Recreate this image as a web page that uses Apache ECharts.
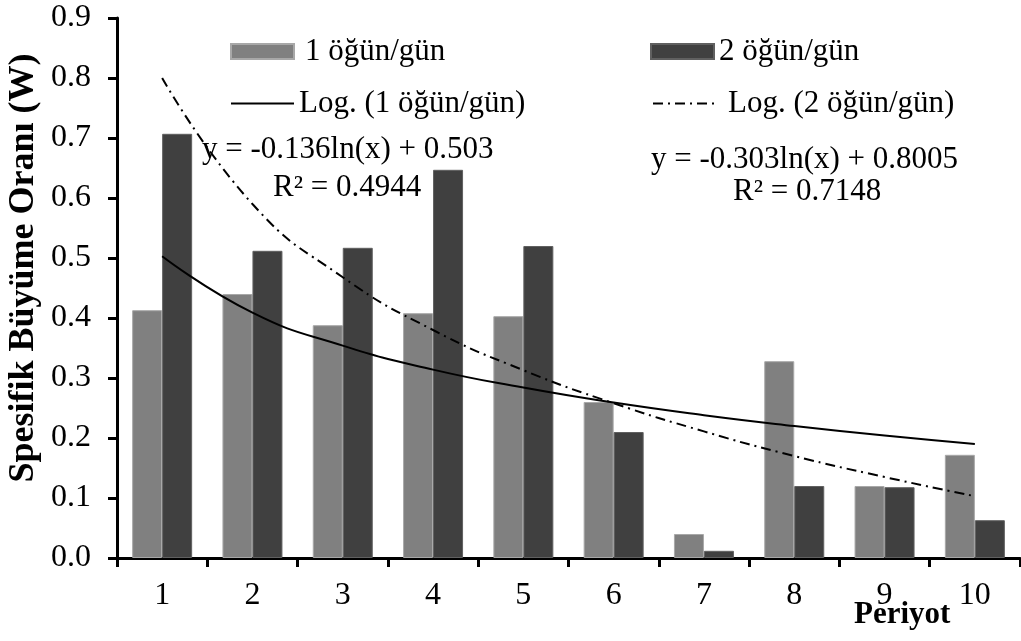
<!DOCTYPE html>
<html>
<head>
<meta charset="utf-8">
<script src="https://cdn.jsdelivr.net/npm/echarts@6/dist/echarts.min.js"></script>
<style>html,body{margin:0;padding:0;background:#fff;}#c{width:1021px;height:641px;}</style>
</head>
<body>
<div id="c"></div>
<script>
const categories = ['1','2','3','4','5','6','7','8','9','10'];
const ogun1 = [0.413, 0.440, 0.388, 0.408, 0.403, 0.260, 0.040, 0.328, 0.120, 0.172];
const ogun2 = [0.707, 0.512, 0.517, 0.647, 0.520, 0.210, 0.012, 0.120, 0.118, 0.063];
const log1 = [0.503, 0.409, 0.354, 0.314, 0.284, 0.259, 0.238, 0.220, 0.204, 0.190];
const log2 = [0.800, 0.590, 0.468, 0.380, 0.313, 0.258, 0.211, 0.170, 0.135, 0.103];
const yTicks = { min: 0, max: 0.9, interval: 0.1 };
const names = ['1 öğün/gün', '2 öğün/gün', 'Log. (1 öğün/gün)', 'Log. (2 öğün/gün)'];
const eq1 = ['y = -0.136ln(x) + 0.503', 'R² = 0.4944'];
const eq2 = ['y = -0.303ln(x) + 0.8005', 'R² = 0.7148'];
const xTitle = 'Periyot';
const yTitle = 'Spesifik Büyüme Oranı (W)';

const FONT = '"Liberation Serif", "Times New Roman", serif';
const chart = echarts.init(document.getElementById('c'), null, { renderer: 'canvas' });
const lt = (pad) => ({ fontFamily: FONT, fontSize: 31, color: '#000', padding: [0, 0, 0, pad] });
const dashDot = [10, 5, 2, 5];
const hideSym = { color: 'rgba(0,0,0,0)', borderWidth: 0, opacity: 0 };

chart.setOption({
  backgroundColor: '#fff',
  animation: false,
  grid: { left: 117, right: 1, top: 18, bottom: 83, containLabel: false, outerBoundsMode: 'none' },
  legend: [
    { data: [names[0]], left: 230, top: 36, itemWidth: 63, itemHeight: 15, icon: 'rect', textStyle: lt(6), padding: 0 },
    { data: [names[1]], left: 650, top: 36, itemWidth: 63, itemHeight: 15, icon: 'rect', textStyle: lt(0), padding: 0 },
    { data: [names[2]], left: 230, top: 88, itemWidth: 63, itemHeight: 15, textStyle: lt(0), padding: 0, itemStyle: hideSym },
    { data: [names[3]], left: 652, top: 88, itemWidth: 65, itemHeight: 15, textStyle: lt(5), padding: 0, itemStyle: hideSym }
  ],
  xAxis: {
    type: 'category',
    data: categories,
    boundaryGap: true,
    axisLine: { lineStyle: { color: '#000', width: 3 } },
    axisTick: { show: true, alignWithLabel: false, length: 9, lineStyle: { color: '#000', width: 3 } },
    axisLabel: { fontFamily: FONT, fontSize: 32, color: '#000', margin: 22 },
    splitLine: { show: false }
  },
  yAxis: {
    type: 'value',
    min: yTicks.min, max: yTicks.max, interval: yTicks.interval,
    axisLine: { show: true, lineStyle: { color: '#000', width: 3 } },
    axisTick: { show: true, length: 9, inside: false, lineStyle: { color: '#000', width: 3 } },
    axisLabel: { fontFamily: FONT, fontSize: 32, color: '#000', margin: 26, formatter: v => v.toFixed(1) },
    splitLine: { show: false }
  },
  series: [
    { name: names[0], type: 'bar', data: ogun1, barWidth: 30, barGap: '0%',
      itemStyle: { color: '#808080', borderColor: '#a8a8a8', borderWidth: 1 } },
    { name: names[1], type: 'bar', data: ogun2, barWidth: 30, barGap: '0%',
      itemStyle: { color: '#404040', borderColor: '#606060', borderWidth: 1 } },
    { name: names[2], type: 'line', data: log1, smooth: true, symbol: 'none', z: 5,
      lineStyle: { color: '#000', width: 2, type: 'solid' }, itemStyle: { color: '#000' } },
    { name: names[3], type: 'line', data: log2, smooth: true, symbol: 'none', z: 5,
      lineStyle: { color: '#000', width: 2, type: dashDot }, itemStyle: { color: '#000' } }
  ],
  graphic: [
    { type: 'text', left: 202, top: 134, z: 10, style: { text: eq1[0], fontFamily: FONT, fontSize: 31, fill: '#000' } },
    { type: 'text', left: 273, top: 172, z: 10, style: { text: eq1[1], fontFamily: FONT, fontSize: 31, fill: '#000' } },
    { type: 'text', left: 651, top: 144, z: 10, style: { text: eq2[0], fontFamily: FONT, fontSize: 31, fill: '#000' } },
    { type: 'text', left: 733, top: 176, z: 10, style: { text: eq2[1], fontFamily: FONT, fontSize: 31, fill: '#000' } },
    { type: 'text', left: 854, top: 599, z: 10, style: { text: xTitle, fontFamily: FONT, fontSize: 31, fontWeight: 'bold', fill: '#000' } },
    { type: 'text', x: 24, y: 268, rotation: Math.PI / 2, z: 10,
      style: { text: yTitle, fontFamily: FONT, fontSize: 36, fontWeight: 'bold', fill: '#000', align: 'center', verticalAlign: 'middle' } }
  ]
});
</script>
</body>
</html>
